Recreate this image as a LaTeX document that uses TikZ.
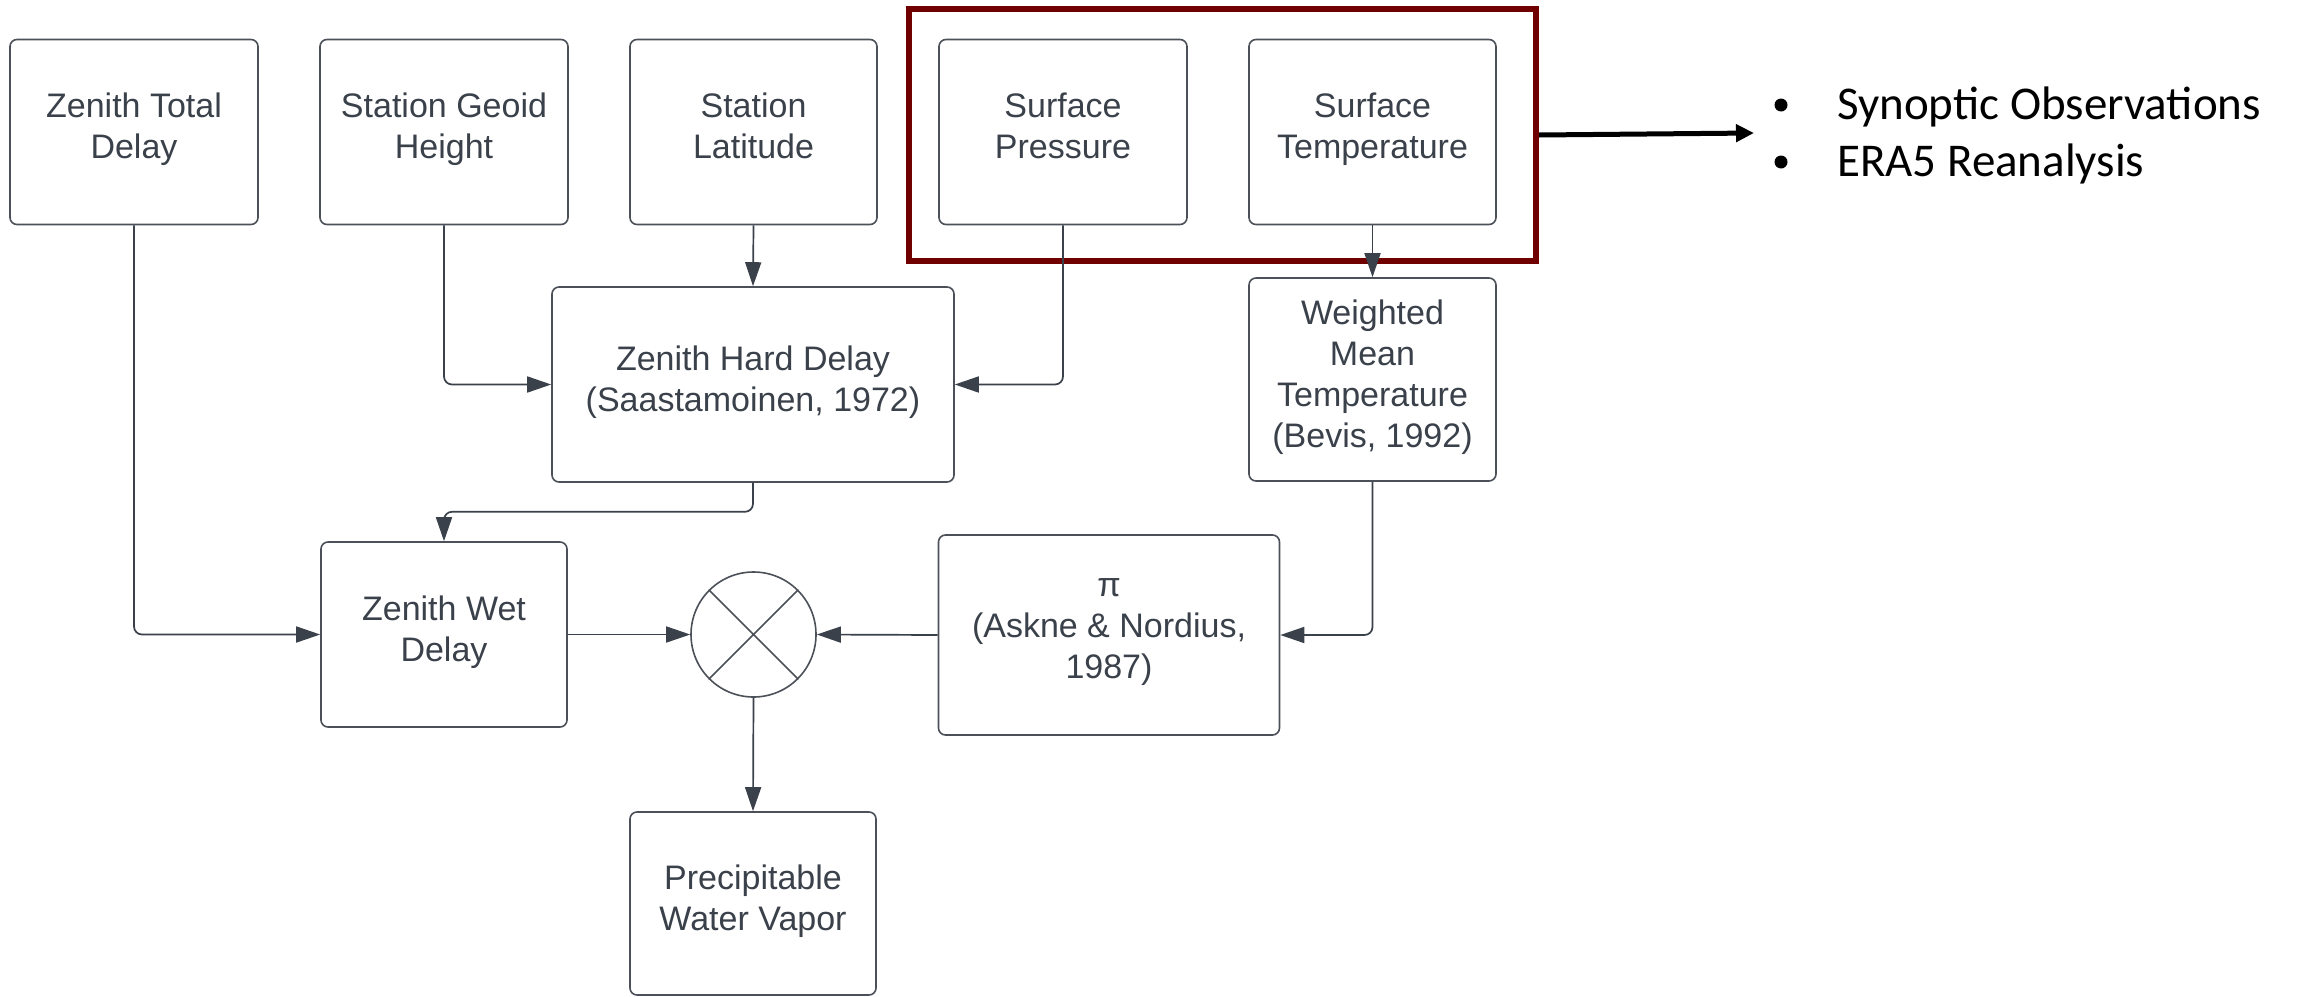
\documentclass[tikz,border=0pt]{standalone}
\usepackage{fontspec}
\setmainfont{Liberation Sans}
\newfontfamily\calib{Carlito}
\usetikzlibrary{arrows.meta}
\definecolor{ink}{HTML}{3A414A}
\definecolor{edgec}{HTML}{4B5059}
\definecolor{maroonc}{RGB}{112,0,0}
\tikzset{
  box/.style={draw=edgec, line width=1.6pt, rounded corners=7pt, align=center, text=ink,
    font=\fontsize{34}{41}\selectfont, inner sep=0pt,
    execute at begin node=\strut, execute at end node=\strut},
  conn/.style={draw=ink, line width=1.7pt, rounded corners=8pt, -{Triangle[length=24pt,width=16pt]}},
  bultext/.style={anchor=base west, font=\calib\fontsize{47}{56}\selectfont, inner sep=0pt, text=black},
}
\begin{document}
\begin{tikzpicture}[x=1pt,y=-1pt]
\fill[white] (0,0) rectangle (2297,996);
\useasboundingbox (0,0) rectangle (2297,996);

% top row
\node[box, minimum width=248pt, minimum height=185pt] (ztd) at (134,132) {Zenith Total\\Delay};
\node[box, minimum width=248pt, minimum height=185pt] (sgh) at (444,132) {Station Geoid\\Height};
\node[box, minimum width=247pt, minimum height=185pt] (sl) at (753.5,132) {Station\\Latitude};
\node[box, minimum width=248pt, minimum height=185pt] (sp) at (1063,132) {Surface\\Pressure};
\node[box, minimum width=247pt, minimum height=185pt] (st) at (1372.5,132) {Surface\\Temperature};

% group frame
\node[draw=maroonc, line width=6pt, minimum width=627pt, minimum height=252pt, inner sep=0pt] (grp) at (1222.5,135) {};

% middle
\node[box, minimum width=402pt, minimum height=195pt] (zhd) at (753,384.5) {Zenith Hard Delay\\(Saastamoinen, 1972)};
\node[box, minimum width=247pt, minimum height=203pt] (wmt) at (1372.5,379.5) {Weighted\\Mean\\Temperature\\(Bevis, 1992)};

% lower
\node[box, minimum width=246pt, minimum height=185pt] (zwd) at (444,634.5) {Zenith Wet\\Delay};
\node[draw=edgec, line width=1.6pt, circle, minimum size=125pt, inner sep=0pt] (circ) at (753.5,634.5) {};
\draw[draw=edgec, line width=1.6pt] (circ.north east) -- (circ.south west) (circ.north west) -- (circ.south east);
\node[box, minimum width=341pt, minimum height=200pt] (pi) at (1109,635) {π\\(Askne \& Nordius,\\1987)};
\node[box, minimum width=246pt, minimum height=183pt] (pwv) at (753,903.5) {Precipitable\\Water Vapor};

% connectors
\draw[conn] (ztd.south) |- (zwd.west);
\draw[conn] (sgh.south) |- (zhd.west);
\draw[conn] (sl.south) -- (zhd.north);
\draw[conn] (sp.south) |- (zhd.east);
\draw[conn] (st.south) -- (wmt.north);
\draw[conn] (zhd.south) -- ++(0,29) -| (zwd.north);
\draw[conn] (wmt.south) |- (pi.east);
\draw[conn] (zwd.east) -- (circ.west);
\draw[conn] (pi.west) -- (circ.east);
\draw[conn] (circ.south) -- (pwv.north);

% data sources
\coordinate (bul) at (1754,133);
\draw[line width=5pt, -{Triangle[length=18pt,width=17pt]}] (grp.east) -- (bul);
\fill (1781,105) circle (6.5pt);
\fill (1781,162) circle (6.5pt);
\node[bultext] (b1) at (1837,119) {Synoptic Observations};
\node[bultext] (b2) at (1837,176) {ERA5 Reanalysis};
\end{tikzpicture}
\end{document}
